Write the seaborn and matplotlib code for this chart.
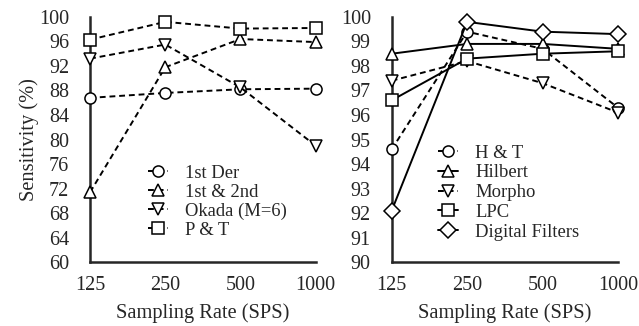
import pandas as pd
import matplotlib
matplotlib.use("Agg")
import matplotlib.pyplot as plt
import seaborn as sns

rates = [125, 250, 500, 1000]

# left panel
der1 = [86.8, 87.6, 88.2, 88.3]
der12 = [71.4, 91.8, 96.4, 95.9]
okada = [93.2, 95.5, 88.5, 79.0]
pt = [96.3, 99.2, 98.1, 98.2]

# right panel
ht = [94.6, 99.4, 98.7, 96.3]
hilbert = [98.5, 98.9, 98.9, 98.7]
morpho = [97.4, 98.2, 97.3, 96.1]
lpc = [96.6, 98.3, 98.5, 98.6]
digital = [92.1, 99.8, 99.4, 99.3]

left_names = ['1st Der', '1st & 2nd', 'Okada (M=6)', 'P & T']
right_names = ['H & T', 'Hilbert', 'Morpho', 'LPC', 'Digital Filters']

sns.set_style('white')
plt.rcParams['font.family'] = ['Liberation Serif', 'DejaVu Serif']
plt.rcParams['axes.linewidth'] = 1.8

def build(names, series):
    rows = []
    for n, s in zip(names, series):
        for r, v in zip(rates, s):
            rows.append({'rate': r, 'value': v, 'method': n})
    return pd.DataFrame(rows)

left_df = build(left_names, [der1, der12, okada, pt])
right_df = build(right_names, [ht, hilbert, morpho, lpc, digital])

fig = plt.figure(figsize=(6.39, 3.26), dpi=100)
ax1 = fig.add_axes([0.141, 0.196, 0.353, 0.752])
ax2 = fig.add_axes([0.613, 0.196, 0.354, 0.752])

dash = (3, 2)
sns.lineplot(data=left_df, x='rate', y='value', hue='method', style='method',
             palette=['black'] * 4, markers=['o', '^', 'v', 's'],
             dashes=[dash] * 4, markersize=8, markerfacecolor='white',
             markeredgecolor='black', markeredgewidth=1.1, linewidth=1.4,
             ax=ax1)
sns.lineplot(data=right_df, x='rate', y='value', hue='method', style='method',
             palette=['black'] * 5, markers=['o', '^', 'v', 's', 'D'],
             dashes=[dash, '', dash, '', ''], markersize=8, markerfacecolor='white',
             markeredgecolor='black', markeredgewidth=1.1, linewidth=1.4,
             ax=ax2)

for ax in (ax1, ax2):
    ax.set_xscale('log', base=2)
    ax.set_xticks(rates)
    ax.set_xticklabels([str(r) for r in rates])
    ax.minorticks_off()
    ax.set_xlim(125, 1000)
    ax.tick_params(axis='both', labelsize=14.5, length=0)
    ax.tick_params(axis='x', pad=10)
    ax.tick_params(axis='y', pad=15)
    ax.set_xlabel('Sampling Rate (SPS)', fontsize=14.7, labelpad=6)
    sns.despine(ax=ax)
    for sp in ax.spines.values():
        sp.set_zorder(0)
    for line in ax.lines:
        line.set_clip_on(False)

ax1.set_ylim(60, 100)
ax1.set_yticks(range(60, 101, 4))
ax1.set_ylabel('Sensitivity (%)', fontsize=14.7, labelpad=0)
ax2.set_ylim(90, 100)
ax2.set_yticks(range(90, 101, 1))
ax2.set_ylabel('')

ax1.legend(loc='lower left', bbox_to_anchor=(0.215, 0.058), frameon=False,
           fontsize=13.4, handlelength=1.1, handletextpad=0.9, labelspacing=0.1,
           borderpad=0)
ax2.legend(loc='lower left', bbox_to_anchor=(0.163, 0.049), frameon=False,
           fontsize=13.4, handlelength=1.1, handletextpad=0.9, labelspacing=0.15,
           borderpad=0)

plt.savefig('out.png', dpi=100)
